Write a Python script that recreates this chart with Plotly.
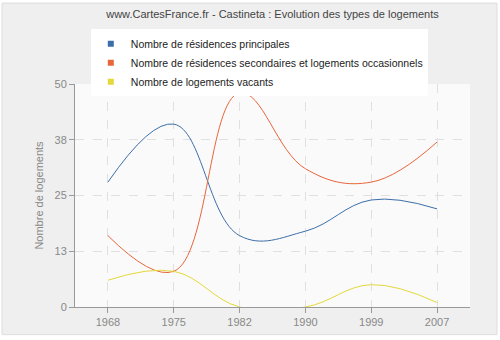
import plotly.graph_objects as go

years = ["1968", "1975", "1982", "1990", "1999", "2007"]
principales = [28, 41, 16, 17, 24, 22]
secondaires = [16, 8, 48, 31, 28, 37]
vacants = [6, 8, 0, 0, 5, 1]
names = ["Nombre de résidences principales",
         "Nombre de résidences secondaires et logements occasionnels",
         "Nombre de logements vacants"]
colors = ["#3d6ea8", "#e8663a", "#e3d93a"]
ytickvals = [0, 12.5, 25, 37.5, 50]
yticktext = ["0", "13", "25", "38", "50"]

FONT = "Liberation Sans"
fig = go.Figure()
for s, n, c in zip([principales, secondaires, vacants], names, colors):
    fig.add_trace(go.Scatter(x=years, y=s, mode="lines", line=dict(color=c, width=1, shape="spline", smoothing=1.15),
                             showlegend=False, hoverinfo="skip"))
for n, c in zip(names, colors):
    fig.add_trace(go.Scatter(x=[None], y=[None], mode="markers", name=n,
                             marker=dict(symbol="square", size=6, color=c)))

fig.update_layout(
    width=500, height=340,
    margin=dict(l=75, r=30, t=84, b=30),
    paper_bgcolor="white",
    plot_bgcolor="#fafafa",
    font=dict(family=FONT, size=11, color="#888"),
    title=dict(text="www.CartesFrance.fr - Castineta : Evolution des types de logements",
               x=0.5, xref="paper", y=1 - 14 / 340, yanchor="middle",
               font=dict(family=FONT, size=11, color="#444")),
    legend=dict(x=0.04, y=1.245, xanchor="left", yanchor="top", bgcolor="white",
                font=dict(family=FONT, size=10.5, color="#222"), itemwidth=30,
                tracegroupgap=0),
    xaxis=dict(type="category", range=[-0.5, 5.5], showgrid=True, gridcolor="#e0e0e0",
               griddash="dash", showline=True, linecolor="#999", ticks="outside",
               ticklen=5, tickcolor="#999", tickfont=dict(color="#888", size=11), zeroline=False),
    yaxis=dict(range=[0, 50], tickvals=ytickvals, ticktext=yticktext, showgrid=True,
               gridcolor="#e0e0e0", griddash="dash", showline=True, linecolor="#999",
               ticks="outside", ticklen=5, tickcolor="#999", zeroline=False,
               tickfont=dict(color="#888", size=11),
               title=dict(text="Nombre de logements", font=dict(color="#888", size=11), standoff=8)),
    shapes=[dict(type="rect", xref="paper", yref="paper", x0=-73/395, x1=1+27/395,
                 y0=-28/226, y1=1+82/226, fillcolor="#efefef", line=dict(color="#dddddd", width=1),
                 layer="below"),
            dict(type="rect", xref="paper", yref="paper", x0=0, x1=1, y0=0, y1=1,
                 fillcolor="#fafafa", line=dict(width=0), layer="below")],
)
fig.write_html("out.html")
